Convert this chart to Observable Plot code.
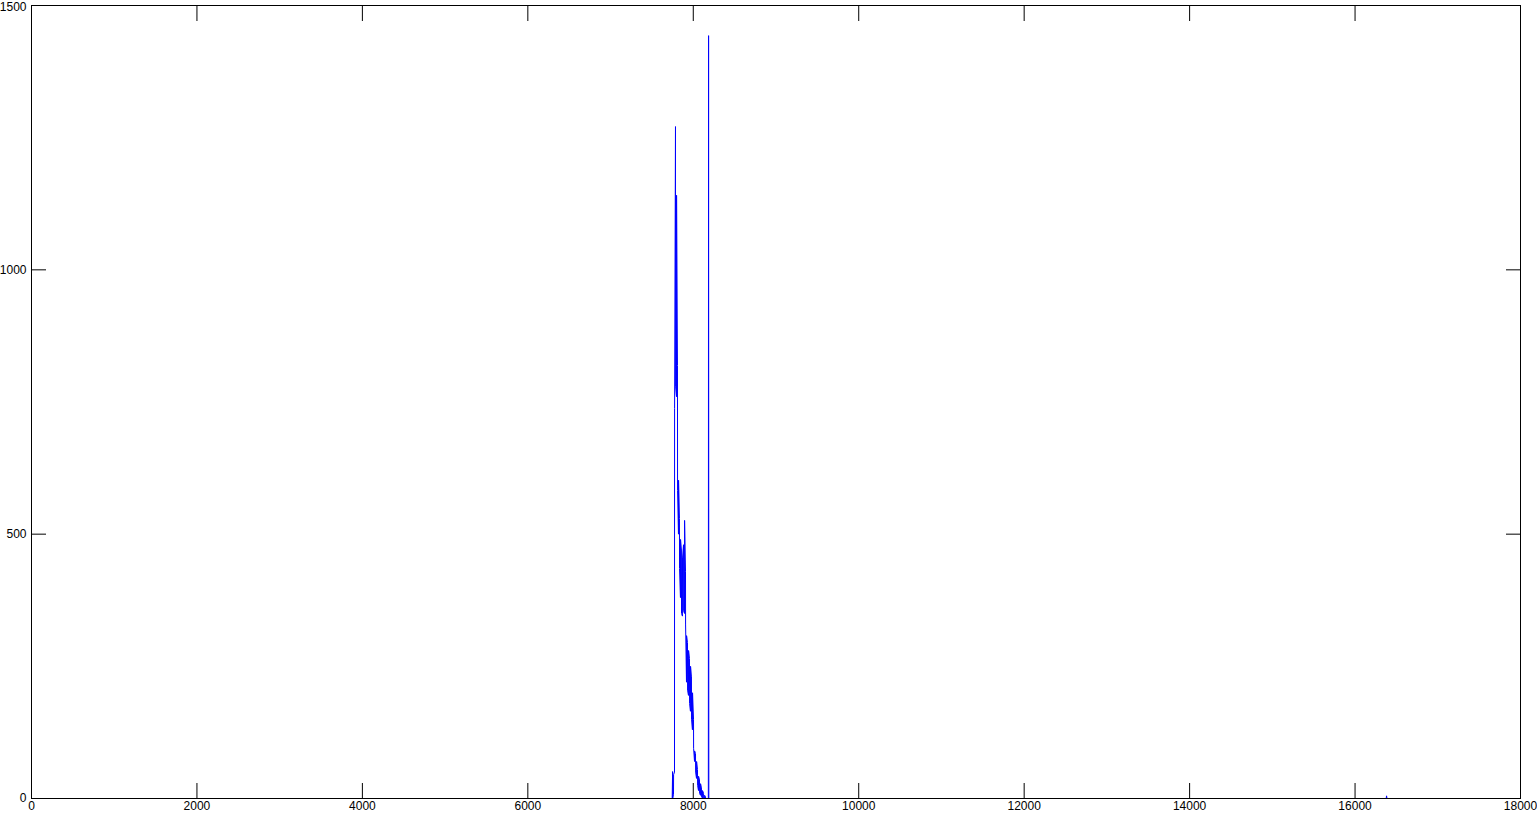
<!DOCTYPE html>
<html><head><meta charset="utf-8">
<script src="https://cdn.jsdelivr.net/npm/d3@7"></script>
<script src="https://cdn.jsdelivr.net/npm/@observablehq/plot@0.6"></script>
<style>html,body{margin:0;padding:0;background:#fff;overflow:hidden}</style>
</head><body><div id="chart"></div>
<script>
const freq = [0,7745,7750,7751,7761,7762,7773,7774,7785,7786,7797,7798,7809,7810,7821,7822,7833,7834,7845,7846,7857,7858,7869,7870,7882,7883,7894,7895,7906,7907,7918,7919,7930,7931,7942,7943,7954,7955,7966,7967,7978,7979,7990,7991,8003,8004,8015,8016,8027,8028,8039,8040,8051,8052,8063,8064,8075,8076,8087,8088,8099,8100,8111,8112,8124,8125,8136,8137,8148,8150,8182,8185,8188,16376,16381,16386];
const amp  = [0,0,51,0,8,45,50,738,1271,780,760,1141,819,583,500,602,530,435,380,490,470,350,345,455,480,355,350,526,430,330,220,308,295,205,195,280,265,180,165,250,230,150,130,200,150,95,70,90,85,50,38,70,55,25,15,42,35,10,6,28,20,3,1,15,10,0,0,6,3,0,0,1443,0,0,5,0];
const xTicks = [0,2000,4000,6000,8000,10000,12000,14000,16000,18000];
const yTicks = [0,500,1000,1500];

const data = freq.map((f, i) => ({f, a: amp[i]}));
const yMax = yTicks[yTicks.length - 1];

const chart = Plot.plot({
  width: 1537, height: 814,
  marginLeft: 31, marginRight: 17, marginTop: 5, marginBottom: 16,
  style: {fontFamily: "'Liberation Sans', Arial, sans-serif", fontSize: "12px", background: "#fff", color: "#000"},
  x: {domain: [0, 18000]},
  y: {domain: [0, 1500]},
  marks: [
    Plot.line(data, {x: "f", y: "a", stroke: "#0000ff", strokeWidth: 1, curve: "linear"}),
    Plot.frame({stroke: "#000", strokeWidth: 1}),
    Plot.axisX(xTicks, {anchor: "bottom", tickSize: 15, dy: -15, fill: "none", label: null, stroke: "#000"}),
    Plot.axisX(xTicks, {anchor: "top", tickSize: 15, dy: 15, fill: "none", label: null, stroke: "#000"}),
    Plot.axisX(xTicks, {anchor: "bottom", tickSize: 0, tickPadding: 3, label: null, fill: "#000", tickFormat: d => String(d)}),
    Plot.axisY(yTicks, {anchor: "left", tickSize: 15, dx: 15, fill: "none", label: null, stroke: "#000"}),
    Plot.axisY(yTicks, {anchor: "right", tickSize: 15, dx: -15, fill: "none", label: null, stroke: "#000"}),
    Plot.axisY(yTicks.filter(d => d < yMax), {anchor: "left", tickSize: 0, tickPadding: 5, label: null, fill: "#000", tickFormat: d => String(d)}),
    Plot.axisY(yTicks.filter(d => d === yMax), {anchor: "left", tickSize: 0, tickPadding: 5, dy: 2, label: null, fill: "#000", tickFormat: d => String(d)})
  ]
});
document.getElementById("chart").appendChild(chart);
</script>
</body></html>
